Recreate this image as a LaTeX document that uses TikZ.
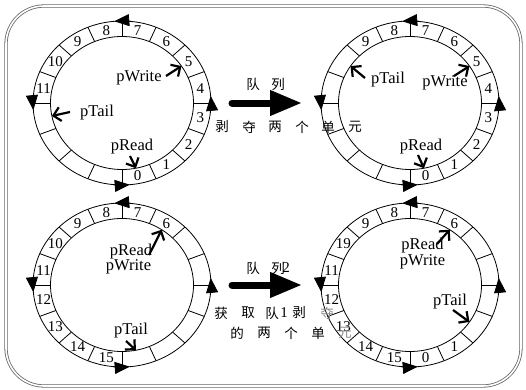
\documentclass[tikz,border=0pt]{standalone}
\usepackage{fontspec}
\setmainfont{Liberation Serif}
\newfontfamily\cjk{Noto Sans CJK SC}
\usetikzlibrary{arrows.meta,calc}
\newcommand\qring[2]{%
  \draw[ringline] (#1) ellipse[x radius=89pt, y radius=82pt];
  \draw[ringline] (#1) ellipse[x radius=71.5pt, y radius=66.5pt];
  \foreach \k in {0,...,15}{\draw[ringline] ($(#1)+(270+22.5*\k:71.5pt and 66.5pt)$) -- ($(#1)+(270+22.5*\k:89pt and 82pt)$);}
  \foreach \a in {90,180,270,360}{\draw[ringline,-{Triangle[length=15pt,width=12pt]}] ($(#1)+(\a-7:89pt and 82pt)$) arc[start angle=\a-7, end angle=\a+5, x radius=89pt, y radius=82pt];}
  \foreach \k/\t in {#2}{\node[cellnum] (#1-n\k) at ($(#1)+(281.25+22.5*\k:80pt and 74pt)$) {\t};}
}
\begin{document}
\begin{tikzpicture}[x=1pt,y=1pt,
  ringline/.style={line width=0.8pt},
  cellnum/.style={font=\fontsize{15}{15}\selectfont, inner sep=0pt},
  ptrtext/.style={font=\fontsize{16.5}{16.5}\selectfont, inner sep=0pt},
  ptrpair/.style={font=\fontsize{16.5}{13.5}\selectfont, inner sep=0pt, align=center},
  ptr/.style={line width=2.2pt, -{Straight Barb[length=7pt,width=14pt]}},
  flow/.style={line width=7pt, line cap=round, -{Triangle[length=32pt,width=24pt]}},
  cjktext/.style={font=\cjk\fontsize{13.5}{13.5}\selectfont, inner sep=0pt},
  faded/.style={text=black!45},
  frame/.style={draw=black!60, line width=0.8pt, double=white, double distance=1.6pt, rounded corners=38pt}
]
\useasboundingbox (0,0) rectangle (526,389);
\draw[frame] (6,3) rectangle (521,383);

\coordinate (TL) at (122,286);
\coordinate (TR) at (410,286);
\coordinate (BL) at (122,104);
\coordinate (BR) at (410,104);

\qring{TL}{0/0,1/1,2/2,3/3,4/4,5/5,6/6,7/7,8/8,9/9,10/10,11/11}
\qring{TR}{0/0,1/1,2/2,3/3,4/4,5/5,6/6,7/7,8/8,9/9}
\qring{BL}{6/6,7/7,8/8,9/9,10/10,11/11,12/12,13/13,14/14,15/15}
\qring{BR}{0/0,1/1,6/6,7/7,8/8,9/9,10/19,11/11,12/12,13/13,14/14,15/15}

% pointers, top-left
\node[ptrtext] (tlw) at (139,311) {pWrite};
\node[ptrtext] (tlt) at (97,276) {pTail};
\node[ptrtext] (tlr) at (132,242) {pRead};
\coordinate (tlw-s) at (166,313);
\coordinate (tlt-s) at (70,277);
\coordinate (tlr-s) at (130,233);
\coordinate (tlw-e) at ($(TL)+(33.75:71.5pt and 66.5pt)$);
\coordinate (tlt-e) at ($(TL)+(191.25:71.5pt and 66.5pt)$);
\coordinate (tlr-e) at ($(TL)+(281.25:71.5pt and 66.5pt)$);
\draw[ptr] (tlw-s) -- (tlw-e);
\draw[ptr] (tlt-s) -- (tlt-e);
\draw[ptr] (tlr-s) -- (tlr-e);

% pointers, top-right
\node[ptrtext] (trt) at (388,309) {pTail};
\node[ptrtext] (trw) at (445,306) {pWrite};
\node[ptrtext] (trr) at (421,242) {pRead};
\coordinate (trt-s) at (365,311);
\coordinate (trw-s) at (454,313);
\coordinate (trr-s) at (418,234);
\coordinate (trt-e) at ($(TR)+(146.25:71.5pt and 66.5pt)$);
\coordinate (trw-e) at ($(TR)+(33.75:71.5pt and 66.5pt)$);
\coordinate (trr-e) at ($(TR)+(281.25:71.5pt and 66.5pt)$);
\draw[ptr] (trt-s) -- (trt-e);
\draw[ptr] (trw-s) -- (trw-e);
\draw[ptr] (trr-s) -- (trr-e);

% pointers, bottom-left
\node[ptrpair] (blrw) at (128.5,130) {\hspace*{5pt}pRead\\pWrite};
\node[ptrtext] (blt) at (131,58) {pTail};
\coordinate (blr-s) at (149,134);
\coordinate (blt-s) at (126,48);
\coordinate (blr-e) at ($(BL)+(56.25:71.5pt and 66.5pt)$);
\coordinate (blt-e) at ($(BL)+(281.25:71.5pt and 66.5pt)$);
\draw[ptr] (blr-s) -- (blr-e);
\draw[ptr] (blt-s) -- (blt-e);

% pointers, bottom-right
\node[ptrpair] (brrw) at (422.5,135.5) {pRead\\pWrite};
\node[ptrtext] (brt) at (450,87) {pTail};
\coordinate (brr-s) at (437,145);
\coordinate (brt-s) at (453,79);
\coordinate (brr-e) at ($(BR)+(56.25:71.5pt and 66.5pt)$);
\coordinate (brt-e) at ($(BR)+(326.25:71.5pt and 66.5pt)$);
\draw[ptr] (brr-s) -- (brr-e);
\draw[ptr] (brt-s) -- (brt-e);

% transition arrows
\coordinate (fa1) at (232,286);
\coordinate (fb1) at (302,286);
\coordinate (fa2) at (232,104);
\coordinate (fb2) at (302,104);
\draw[flow] (fa1) -- (fb1);
\draw[flow] (fa2) -- (fb2);

% texts, top
\node[cjktext] (q1a) at (253,305) {队};
\node[cjktext] (q1b) at (278,305) {列};
\foreach \c/\x [count=\i] in {剥/222,夺/249,两/275,个/302,单/328,元/355}
  {\node[cjktext] (s1-\i) at (\x,262) {\c};}

% texts, bottom
\node[cjktext] (q2a) at (253,121) {队};
\node[cjktext] (q2b) at (278,121) {列};
\node[cellnum] (q2c) at (286,121) {2};
\foreach \c/\x [count=\i] in {获/221,取/248,队/272}
  {\node[cjktext] (s2-\i) at (\x,76) {\c};}
\node[cellnum] (s2-one) at (284,76) {1};
\node[cjktext] (s2-4) at (299,76) {剥};
\node[cjktext,faded] (s2-5) at (327,76) {夺};
\foreach \c/\x [count=\i] in {的/237,两/264,个/291,单/318}
  {\node[cjktext] (s3-\i) at (\x,56) {\c};}
\node[cjktext,faded] (s3-5) at (345,56) {元};
\end{tikzpicture}
\end{document}
